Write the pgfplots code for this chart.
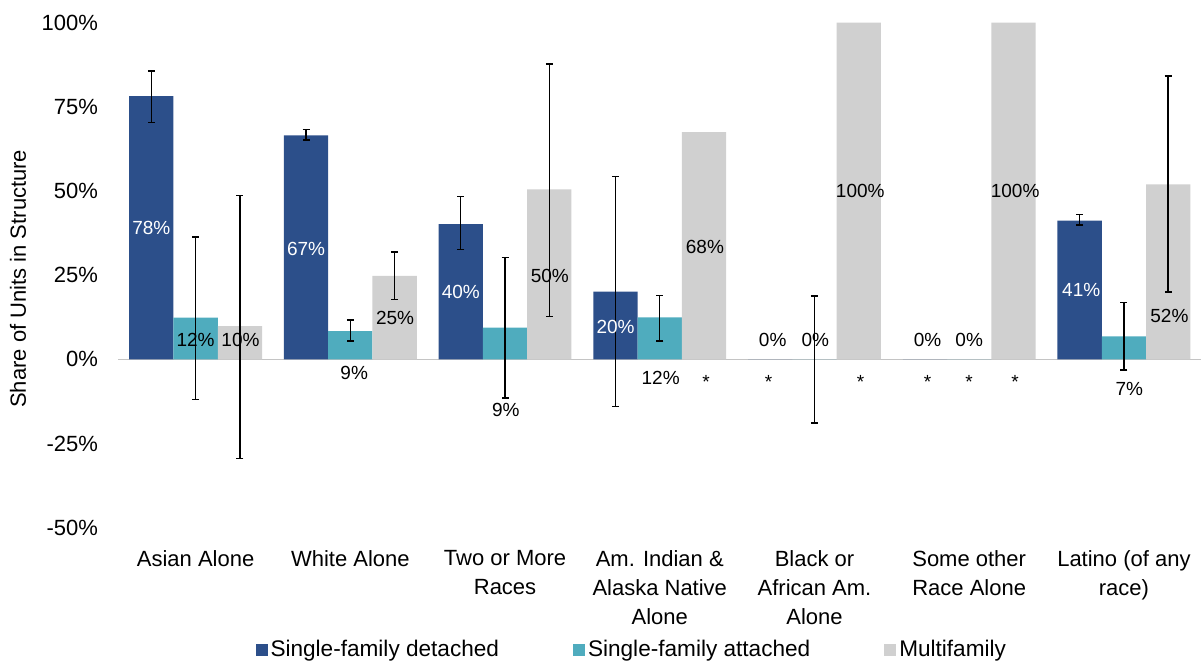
\documentclass[border=0pt]{standalone}
\usepackage{fontspec}
\setmainfont{Liberation Sans}
\usepackage{pgfplots}
\pgfplotsset{compat=1.18}
\definecolor{cdet}{HTML}{2C4F8A}
\definecolor{catt}{HTML}{4FACBE}
\definecolor{cmul}{HTML}{D0D0D0}
\definecolor{zline}{HTML}{C4C4C4}
\begin{document}
\begin{tikzpicture}[
  lw/.style={font=\fontsize{9.5}{11}\selectfont, text=white, inner sep=0pt},
  lb/.style={font=\fontsize{9.5}{11}\selectfont, text=black, inner sep=0pt},
  st/.style={font=\fontsize{9.5}{11}\selectfont, text=black, inner sep=0pt, anchor=base},
]
\begin{axis}[
  at={(0,0)}, anchor=south west,
  scale only axis, width=541.7pt, height=252.6pt,
  xmin=-0.5, xmax=6.5, ymin=-50, ymax=100,
  clip=false,
  axis line style={draw=none},
  major tick length=0pt,
  xtick={0,...,6},
  xticklabels={{Asian Alone},{White Alone},{Two or More\\Races},{Am. Indian \&\\Alaska Native\\Alone},{Black or\\African Am.\\Alone},{Some other\\Race Alone},{Latino (of any\\race)}},
  xticklabel style={align=center, font=\fontsize{11}{14.5}\selectfont, anchor=north, yshift=-8pt},
  ytick={-50,-25,0,25,50,75,100},
  yticklabel={\pgfmathprintnumber{\tick}\%},
  yticklabel style={font=\fontsize{11}{13}\selectfont, xshift=-6.6pt},
  /pgf/number format/assume math mode=true,
  extra y ticks={0}, extra y tick labels={},
  extra y tick style={grid=major, major grid style={draw=zline, line width=0.75pt}},
  ylabel={Share of Units in Structure},
  ylabel style={at={(axis description cs:-0.0926,0.493)}, anchor=center, inner sep=0pt, font=\fontsize{11}{13}\selectfont},
  legend columns=3,
  legend style={at={(axis description cs:0.4746,-0.2417)}, anchor=center, draw=none, inner sep=0pt, font=\fontsize{11.3}{13}\selectfont, nodes={inner sep=1.5pt}, /tikz/every even column/.append style={column sep=35.5pt}},
  mybar/.style={ybar, bar width=22.15pt, draw=none, legend image code/.code={\draw[##1,/tikz/.cd,draw=none] (0pt,-3pt) rectangle (6pt,3pt);}},
  myerr/.style={forget plot, draw=none, mark=none, error bars/.cd, y dir=both, y explicit, error bar style={black, line width=0.7pt}, error mark options={black, line width=0.7pt, mark size=1.75pt, rotate=90}},
]
\addplot[mybar, bar shift=-22.15pt, fill=cdet] coordinates {(0,78.2) (1,66.5) (2,40.2) (3,20.1) (4,0) (5,0) (6,41.2)};
\addlegendentry{Single-family detached}
\addplot[mybar, bar shift=0pt, fill=catt] coordinates {(0,12.4) (1,8.4) (2,9.4) (3,12.5) (4,0) (5,0) (6,6.8)};
\addlegendentry{Single-family attached}
\addplot[mybar, bar shift=22.15pt, fill=cmul] coordinates {(0,9.9) (1,24.8) (2,50.5) (3,67.5) (4,100) (5,100) (6,52.0)};
\addlegendentry{Multifamily}
% error bars (centre +- half-width)
\addplot[myerr] coordinates {(-0.286,78.0) +- (0,7.7) (0.714,66.75) +- (0,1.6) (1.714,40.5) +- (0,7.8) (2.714,20.15) +- (0,34.15) (5.714,41.5) +- (0,1.6)};
\addplot[myerr] coordinates {(0,12.2) +- (0,24.2) (1,8.6) +- (0,3.1) (2,9.35) +- (0,20.85) (3,12.2) +- (0,6.7) (4,0) +- (0,18.85) (6,6.9) +- (0,10)};
\addplot[myerr] coordinates {(0.286,9.55) +- (0,39.05) (1.286,24.85) +- (0,7.0) (2.286,50.2) +- (0,37.5) (6.286,52.1) +- (0,32.1)};
% data labels
\node[lw] at (axis cs:-0.286,39.0) {78\%};
\node[lw] at (axis cs:0.714,32.8) {67\%};
\node[lw] at (axis cs:1.714,20.0) {40\%};
\node[lw] at (axis cs:2.714,9.6) {20\%};
\node[lw] at (axis cs:5.724,20.6) {41\%};
\node[lb] at (axis cs:0,5.8) {12\%};
\node[lb] at (axis cs:0.29,5.8) {10\%};
\node[lb] at (axis cs:1.025,-4.0) {9\%};
\node[lb] at (axis cs:1.289,12.3) {25\%};
\node[lb] at (axis cs:2.005,-15.0) {9\%};
\node[lb] at (axis cs:2.289,24.8) {50\%};
\node[lb] at (axis cs:3.006,-5.5) {12\%};
\node[lb] at (axis cs:3.292,33.4) {68\%};
\node[lb] at (axis cs:3.73,5.8) {0\%};
\node[lb] at (axis cs:4.005,5.8) {0\%};
\node[lb] at (axis cs:4.296,50) {100\%};
\node[lb] at (axis cs:4.731,5.8) {0\%};
\node[lb] at (axis cs:5.0,5.8) {0\%};
\node[lb] at (axis cs:5.297,50) {100\%};
\node[lb] at (axis cs:6.035,-8.8) {7\%};
\node[lb] at (axis cs:6.294,12.9) {52\%};
\node[st] at (axis cs:3.30,-8.6) {*};
\node[st] at (axis cs:3.704,-8.6) {*};
\node[st] at (axis cs:4.298,-8.6) {*};
\node[st] at (axis cs:4.731,-8.6) {*};
\node[st] at (axis cs:5.0,-8.6) {*};
\node[st] at (axis cs:5.297,-8.6) {*};
\end{axis}
\path (-59.15pt,-67.55pt) rectangle (541.85pt,263.95pt);
\end{tikzpicture}
\end{document}
